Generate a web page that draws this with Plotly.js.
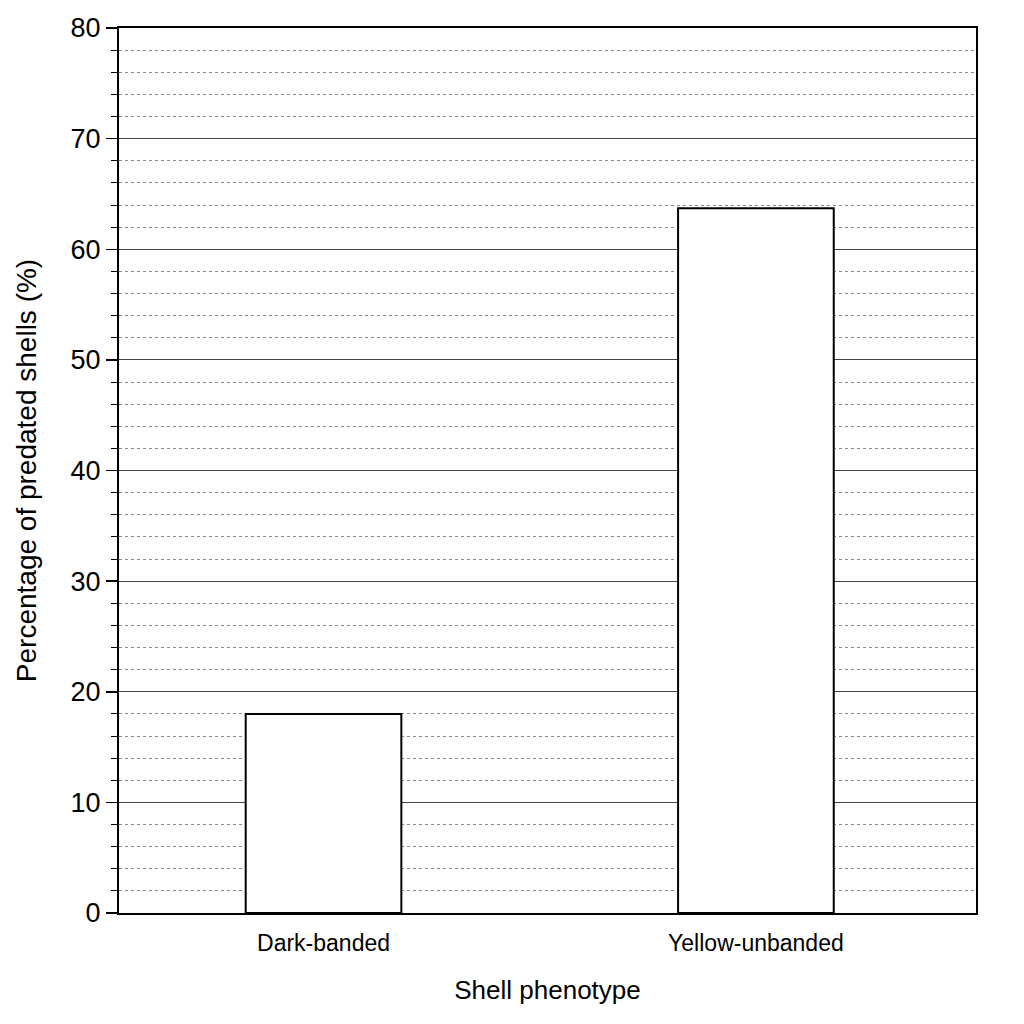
<!DOCTYPE html>
<html>
<head>
<meta charset="utf-8">
<script src="https://cdn.plot.ly/plotly-3.0.1.min.js"></script>
<style>
  html, body { margin: 0; padding: 0; background: #fff; }
  #myDiv { width: 1024px; height: 1024px; }
</style>
</head>
<body>
<div id="myDiv"></div>
<script>
// ------ DATOS
const phenotypes = ["Dark-banded", "Yellow-unbanded"];
const predatedPct = [18, 63.7];

// ------ GRAFICO
var trace = {
  x: phenotypes,
  y: predatedPct,
  type: 'bar',
  width: 0.36,
  marker: {
    color: '#ffffff',
    line: { color: '#000000', width: 2 }
  },
  hoverinfo: 'none'
};

var layout = {
  width: 1024,
  height: 1024,
  margin: { l: 119, r: 48, t: 28, b: 111 },
  paper_bgcolor: '#ffffff',
  plot_bgcolor: '#ffffff',
  showlegend: false,
  font: { family: 'Liberation Sans, Arial, sans-serif', color: '#000' },
  xaxis: {
    type: 'category',
    range: [-0.473, 1.509],
    showgrid: false,
    showline: true,
    linecolor: '#000',
    linewidth: 2,
    mirror: true,
    ticks: '',
    ticklabelstandoff: 8,
    tickfont: { family: 'Liberation Sans Narrow, Arial Narrow, Liberation Sans, sans-serif', size: 23 },
    title: { text: 'Shell phenotype', font: { size: 26 }, standoff: 26 }
  },
  yaxis: {
    range: [0, 80],
    dtick: 10,
    showline: true,
    linecolor: '#000',
    linewidth: 2,
    mirror: true,
    ticks: 'outside',
    ticklen: 11,
    tickwidth: 1.5,
    tickcolor: '#000',
    showgrid: true,
    gridcolor: '#444',
    gridwidth: 1,
    zeroline: false,
    tickfont: { size: 27 },
    title: { text: 'Percentage of predated shells (%)', font: { size: 28 }, standoff: 26 },
    minor: {
      dtick: 2,
      ticks: 'outside',
      ticklen: 6,
      tickcolor: '#000',
      tickwidth: 1,
      showgrid: true,
      gridcolor: '#888',
      gridwidth: 1,
      griddash: 'dot'
    }
  }
};

Plotly.newPlot('myDiv', [trace], layout, { staticPlot: true });
</script>
</body>
</html>
